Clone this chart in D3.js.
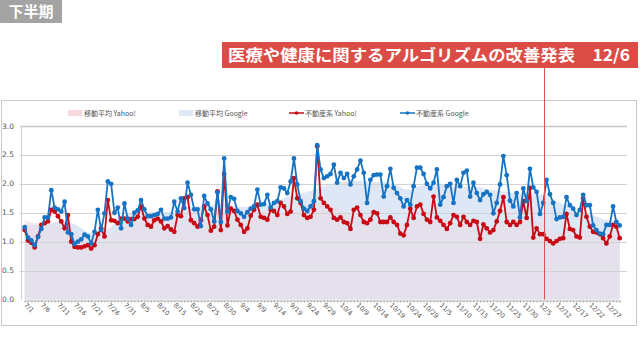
<!DOCTYPE html>
<html><head><meta charset="utf-8">
<script src="https://cdn.jsdelivr.net/npm/d3@7"></script>
<style>
html,body{margin:0;padding:0;background:#fff;}
svg{display:block;}
</style></head>
<body>
<svg id="c" width="640" height="355"></svg>
<script>
// ---------- DATA ----------
const title = "下半期";
const annotation = "医療や健康に関するアルゴリズムの改善発表　12/6";
const eventDate = "12/6";
const seriesNames = ["移動平均 Yahoo!", "移動平均 Google", "不動産系 Yahoo!", "不動産系 Google"];
const months = [7, 8, 9, 10, 11, 12];
const monthDays = [31, 31, 30, 31, 30, 31];
const missingDays = ["11/3", "11/4", "12/10", "12/11"];
const tickLabels = ["7/1","7/6","7/11","7/16","7/21","7/26","7/31","8/5","8/10","8/15","8/20","8/25","8/30","9/4","9/9","9/14","9/19","9/24","9/29","10/4","10/9","10/14","10/19","10/24","10/29","11/5","11/10","11/15","11/20","11/25","11/30","12/5","12/12","12/17","12/22","12/27"];
const yTicks = [0, 0.5, 1.0, 1.5, 2.0, 2.5, 3.0];

const yahoo = [1.20,1.02,0.98,0.90,1.09,1.29,1.32,1.35,1.55,1.52,1.44,1.35,1.23,1.46,1.00,0.91,0.90,0.90,0.92,0.94,
0.88,0.94,1.13,1.23,1.09,1.72,1.37,1.36,1.32,1.40,1.40,1.35,1.39,1.39,1.43,1.61,1.40,1.29,1.26,1.37,
1.40,1.35,1.23,1.27,1.21,1.17,1.46,1.44,1.75,1.77,1.37,1.32,1.26,1.37,1.61,1.46,1.19,1.26,1.87,1.20,
2.17,1.28,1.57,1.53,1.38,1.29,1.17,1.23,1.45,1.55,1.64,1.43,1.41,1.38,1.55,1.53,1.46,1.67,1.61,1.48,
1.52,2.10,1.75,1.67,1.46,1.41,1.43,1.55,2.65,1.75,1.67,1.61,1.55,1.41,1.38,1.42,1.34,1.32,1.22,1.55,
1.59,1.46,1.34,1.32,1.38,1.51,1.49,1.34,1.34,1.34,1.42,1.34,1.29,1.14,1.11,1.29,1.57,1.41,1.61,1.64,
1.48,1.38,1.34,1.78,1.42,1.36,1.29,1.22,1.32,1.46,1.43,1.29,1.43,1.34,1.29,1.36,1.34,1.05,1.30,1.23,
1.16,1.20,1.35,1.53,1.77,1.34,1.29,1.34,1.29,1.34,1.70,1.41,1.93,1.07,1.23,1.13,1.13,1.05,1.01,0.97,
1.01,1.05,1.06,1.48,1.22,1.20,1.09,1.07,1.75,1.43,1.26,1.17,1.16,1.13,1.06,0.97,1.09,1.29,1.26,1.06];

const google = [1.25,1.07,1.02,0.94,1.08,1.22,1.42,1.42,1.89,1.59,1.56,1.52,1.69,1.16,1.13,0.96,1.00,1.04,1.12,1.09,
0.97,1.17,1.55,1.20,1.49,2.04,2.00,1.50,1.59,1.23,1.66,1.40,1.29,1.50,1.54,1.72,1.56,1.44,1.44,1.46,
1.48,1.55,1.40,1.40,1.42,1.69,1.52,1.75,1.58,2.02,1.81,1.56,1.56,1.27,1.79,1.66,1.56,1.35,1.85,1.34,
2.44,1.52,1.77,1.74,1.53,1.49,1.43,1.51,1.57,1.61,1.90,1.64,1.65,1.81,1.59,1.67,1.70,1.94,1.92,1.84,
2.04,2.44,1.99,1.70,1.57,1.53,1.61,1.70,2.67,2.25,2.10,2.13,2.17,2.33,2.02,2.19,2.10,2.17,1.99,2.13,
2.25,2.40,2.19,1.67,2.07,2.15,2.16,2.16,1.78,1.96,2.26,1.93,1.84,1.75,1.61,1.72,1.64,1.96,2.28,2.28,
2.17,2.00,1.92,2.02,2.25,1.64,1.77,1.96,2.00,1.67,2.07,1.96,2.19,2.23,1.78,2.02,1.84,1.72,1.82,1.86,
1.81,1.49,1.67,1.99,2.48,2.15,1.71,1.61,1.84,1.42,1.92,1.70,2.26,1.94,1.86,1.48,1.67,2.07,1.82,1.67,
1.39,1.42,1.43,1.77,1.63,1.57,1.46,1.55,1.81,1.63,1.63,1.28,1.20,1.14,1.13,1.29,1.29,1.61,1.34,1.28];

// moving averages read at every labelled date (plus the last day)
const maDates = ["7/1","7/6","7/11","7/16","7/21","7/26","7/31","8/5","8/10","8/15","8/20","8/25","8/30","9/4","9/9","9/14","9/19","9/24","9/29","10/4","10/9","10/14","10/19","10/24","10/29","11/5","11/10","11/15","11/20","11/25","11/30","12/5","12/12","12/17","12/22","12/27","12/31"];
const maYahoo = [1.37,1.30,1.28,1.15,1.03,1.10,1.28,1.38,1.42,1.36,1.40,1.42,1.45,1.42,1.40,1.45,1.50,1.55,1.68,1.55,1.42,1.40,1.38,1.30,1.42,1.42,1.36,1.35,1.26,1.38,1.40,1.35,1.15,1.20,1.20,1.10,1.12];
const maGoogle = [1.30,1.28,1.35,1.30,1.15,1.22,1.45,1.50,1.52,1.50,1.60,1.62,1.65,1.60,1.60,1.68,1.80,1.86,1.96,2.03,2.05,2.03,2.02,1.90,1.98,2.00,1.95,1.95,1.90,1.86,1.82,1.82,1.70,1.56,1.48,1.38,1.36];

// ---------- CATEGORIES ----------
const categories = [];
months.forEach((m, i) => {
  for (let d = 1; d <= monthDays[i]; d++) {
    const k = m + "/" + d;
    if (!missingDays.includes(k)) categories.push(k);
  }
});

// ---------- DRAW ----------
const svg = d3.select("#c");
const FONT = "'DejaVu Sans', Verdana, sans-serif";
const JFONT = "'Noto Sans CJK JP', 'Noto Sans', sans-serif";

// title box
svg.append("rect").attr("x", 0).attr("y", 0).attr("width", 62).attr("height", 23).attr("fill", "#a3a3a3");
svg.append("text").attr("x", 31).attr("y", 17).attr("text-anchor", "middle")
  .attr("font-family", JFONT).attr("font-weight", "bold").attr("font-size", 15).attr("fill", "#fff").text(title);

// chart frame
svg.append("rect").attr("x", 1.5).attr("y", 100.5).attr("width", 635).attr("height", 225)
  .attr("fill", "#fff").attr("stroke", "#c9c9c9").attr("stroke-width", 1);

const x = d3.scalePoint().domain(categories).range([24.7, 619.7]);
const y = d3.scaleLinear().domain([0, 3]).range([299.5, 126]);

// areas (moving averages)
const areaGen = d3.area()
  .x((d) => x(d.k)).y0(y(0)).y1((d) => y(d.v)).curve(d3.curveMonotoneX);
const gData = maDates.map((k, i) => ({k, v: maGoogle[i]}));
const yData = maDates.map((k, i) => ({k, v: maYahoo[i]}));
svg.append("path").datum(gData).attr("d", areaGen).attr("fill", "#dde7f5");
svg.append("path").datum(yData).attr("d", areaGen).attr("fill", "#ebd9e3").attr("fill-opacity", 0.5);

// gridlines
svg.append("g").selectAll("line").data(yTicks.filter(t => t > 0)).join("line")
  .attr("x1", 20).attr("x2", 627).attr("y1", d => Math.round(y(d)) + 0.5).attr("y2", d => Math.round(y(d)) + 0.5)
  .attr("stroke", d => d === 3 ? "#c4c4c4" : "#d2d2d2").attr("stroke-width", d => d === 3 ? 1.5 : 1);

// y axis line
svg.append("line").attr("x1", 21.5).attr("x2", 21.5).attr("y1", y(3)).attr("y2", y(0))
  .attr("stroke", "#cfcfcf");

// y labels
svg.append("g").selectAll("text").data(yTicks).join("text")
  .attr("x", 2).attr("y", d => y(d) + 2.5)
  .attr("font-family", FONT).attr("font-size", 7.5).attr("fill", "#555")
  .text(d => d3.format(".1f")(d));

// x axis
const xAxis = d3.axisBottom(x).tickSize(2).tickValues(categories).tickFormat(() => "");
const gx = svg.append("g").attr("transform", `translate(0,${Math.round(y(0)) + 0.5})`).call(xAxis);
gx.select(".domain").attr("stroke", "#bbb");
gx.selectAll(".tick line").attr("stroke", "#aaa");
svg.append("g").selectAll("text").data(tickLabels).join("text")
  .attr("transform", d => `translate(${x(d) - 1},${y(0) + 6}) rotate(45)`)
  .attr("font-family", FONT).attr("font-size", 6.5).attr("fill", "#555")
  .text(d => d);

// series
function drawSeries(vals, color) {
  const data = categories.map((k, i) => ({k, v: vals[i]}));
  const line = d3.line().x(d => x(d.k)).y(d => y(d.v));
  svg.append("path").datum(data).attr("d", line).attr("fill", "none")
    .attr("stroke", color).attr("stroke-width", 1.8).attr("stroke-linejoin", "round");
  svg.append("g").selectAll("circle").data(data).join("circle")
    .attr("cx", d => x(d.k)).attr("cy", d => y(d.v)).attr("r", 2.4).attr("fill", color);
}
drawSeries(yahoo, "#c80a14");
drawSeries(google, "#1673c4");

// legend
const legY = 113;
const lg = svg.append("g").attr("font-family", JFONT).attr("font-size", 7).attr("fill", "#555");
lg.append("rect").attr("x", 68).attr("y", legY - 3).attr("width", 14).attr("height", 6).attr("fill", "#f9d9de");
lg.append("text").attr("x", 84).attr("y", legY + 2.5).text(seriesNames[0]);
lg.append("rect").attr("x", 179).attr("y", legY - 3).attr("width", 14).attr("height", 6).attr("fill", "#dfe8f6");
lg.append("text").attr("x", 195).attr("y", legY + 2.5).text(seriesNames[1]);
lg.append("line").attr("x1", 289).attr("x2", 304).attr("y1", legY).attr("y2", legY).attr("stroke", "#c80a14").attr("stroke-width", 1.5);
lg.append("circle").attr("cx", 296.5).attr("cy", legY).attr("r", 1.8).attr("fill", "#c80a14");
lg.append("text").attr("x", 305).attr("y", legY + 2.5).text(seriesNames[2]);
lg.append("line").attr("x1", 400).attr("x2", 415).attr("y1", legY).attr("y2", legY).attr("stroke", "#1673c4").attr("stroke-width", 1.5);
lg.append("circle").attr("cx", 407.5).attr("cy", legY).attr("r", 1.8).attr("fill", "#1673c4");
lg.append("text").attr("x", 416).attr("y", legY + 2.5).text(seriesNames[3]);

// event line + annotation
const ex = Math.round(x(eventDate)) + 1.5;
svg.append("line").attr("x1", ex).attr("x2", ex).attr("y1", 68).attr("y2", y(0))
  .attr("stroke", "#d9534f").attr("stroke-width", 1);
svg.append("rect").attr("x", 222).attr("y", 42).attr("width", 416).attr("height", 26).attr("fill", "#dc4c46");
svg.append("text").attr("x", 630).attr("y", 61).attr("text-anchor", "end")
  .attr("font-family", JFONT).attr("font-weight", "bold").attr("font-size", 16).attr("fill", "#fff")
  .attr("textLength", 402).attr("lengthAdjust", "spacingAndGlyphs")
  .text(annotation);
</script>
</body></html>
